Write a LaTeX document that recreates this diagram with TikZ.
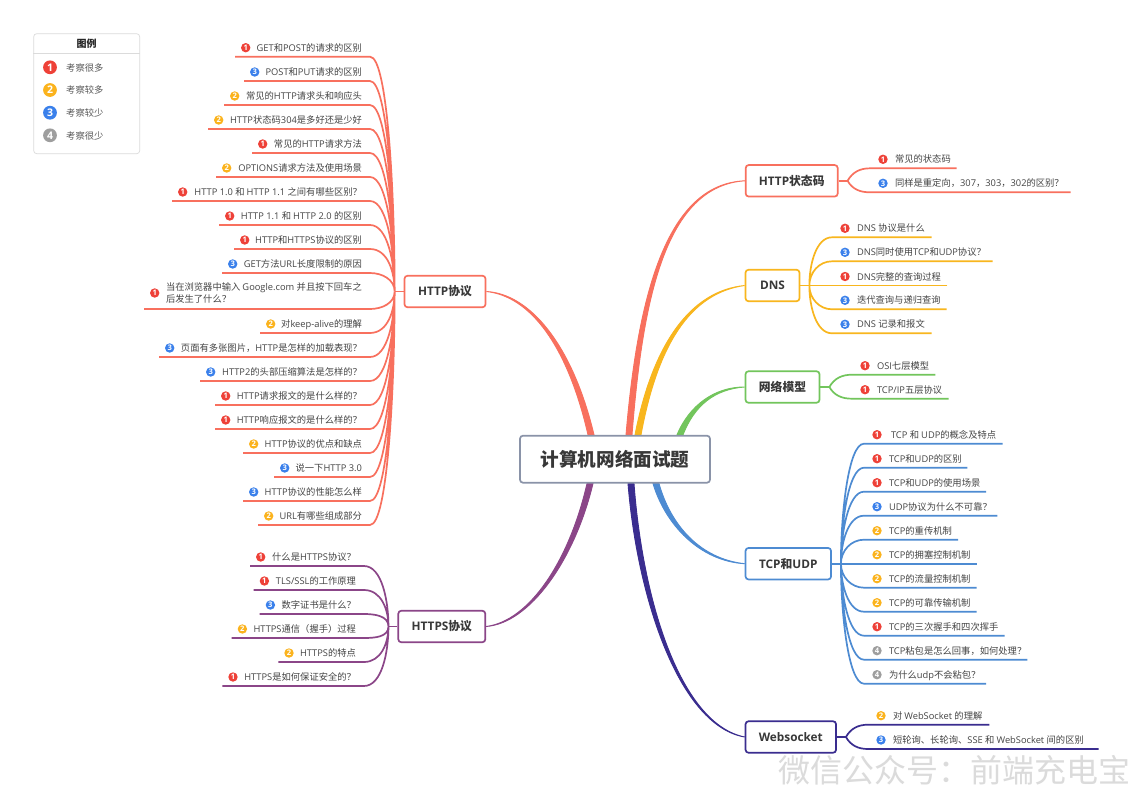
\documentclass[tikz,border=0pt]{standalone}
\usepackage{fontspec}
\usetikzlibrary{positioning, backgrounds}

\setmainfont{Open Sans}
\newfontfamily\latinfont{Open Sans}
\newfontfamily\cjkfont{Noto Sans CJK SC}

% Chinese characters switch to the CJK font by themselves
\XeTeXinterchartokenstate=1
\newXeTeXintercharclass\cjkclass
\newcount\cjkcode
\newcommand{\setcjkrange}[2]{\cjkcode=#1 \loop \XeTeXcharclass\cjkcode=\cjkclass \ifnum\cjkcode<#2 \advance\cjkcode by 1 \repeat}
\setcjkrange{"3000}{"303F}
\setcjkrange{"4E00}{"9FFF}
\setcjkrange{"FF00}{"FFEF}
\XeTeXinterchartoks 0 \cjkclass={\cjkfont}
\XeTeXinterchartoks \cjkclass 0={\latinfont}
\XeTeXinterchartoks 4095 \cjkclass={\cjkfont}
\XeTeXinterchartoks 4095 0={\latinfont}

\definecolor{inktext}{HTML}{444444}
\definecolor{rootline}{HTML}{8A93A8}
\definecolor{httpc}{HTML}{F8705E}
\definecolor{dnsc}{HTML}{F8B61E}
\definecolor{netc}{HTML}{72C55C}
\definecolor{tcpc}{HTML}{4D8BD2}
\definecolor{wsc}{HTML}{3A2D8F}
\definecolor{tlsc}{HTML}{8B4688}
\definecolor{lvred}{HTML}{EE4138}
\definecolor{lvorange}{HTML}{FBB31D}
\definecolor{lvblue}{HTML}{3A80EB}
\definecolor{lvgray}{HTML}{9E9E9E}

\tikzset{
    badge/.style={circle, inner sep=0pt, minimum size=9.4pt, text=white, font=\bfseries\fontsize{7.6}{7.6}\selectfont},
    lvone/.style={badge, fill=lvred},
    lvtwo/.style={badge, fill=lvorange},
    lvthree/.style={badge, fill=lvblue},
    lvfour/.style={badge, fill=lvgray},
    bigbadge/.style={minimum size=13.8pt, font=\bfseries\fontsize{10.5}{10.5}\selectfont},
    leaf/.style={outer sep=0pt, inner ysep=0pt, minimum height=18pt, text height=8pt, text depth=1pt,
        text=inktext, font=\fontsize{9.3}{12.5}\selectfont},
    lleaf/.style={leaf, anchor=south east, align=flush right, inner xsep=8pt, text width=#1-16pt},
    rleaf/.style={leaf, anchor=south west, align=flush left, inner xsep=3pt, text width=#1-6pt,
        execute at begin node={\hspace*{22pt}}},
    topic/.style={draw=#1, fill=white, rounded corners=3pt, line width=1.7pt, minimum height=31.5pt,
        inner xsep=0pt, text=black!78, font=\bfseries\fontsize{11.8}{14}\selectfont},
    trunk/.style={line width=1.7pt},
    lup/.style={out=0, in=90, out max distance=18pt},
    ldown/.style={out=0, in=-90, out max distance=18pt},
    rup/.style={out=180, in=90, out max distance=16pt},
    rdown/.style={out=180, in=-90, out max distance=16pt},
    legendtext/.style={anchor=west, inner sep=0pt, text=black!65, font=\fontsize{9.3}{12}\selectfont}
}

\newcommand{\limb}[6]{\filldraw[#1, line width=.9pt] ([xshift=-3pt]#2) .. controls ([xshift=-2.6pt]#3) and ([yshift=#6*1pt]#4) .. (#5) .. controls ([yshift=-1*#6*1pt]#4) and ([xshift=2.6pt]#3) .. ([xshift=3pt]#2) -- cycle;}

\begin{document}
\begin{tikzpicture}[x=1pt, y=-1pt]
    \useasboundingbox (0,0) rectangle (1132,787);

    % Root and topics
    \node[draw=rootline, fill=white, rounded corners=3pt, line width=1.7pt, minimum width=190pt, minimum height=47pt,
        inner sep=0pt, text=black!78, font=\bfseries\fontsize{18.6}{22}\selectfont] (root) at (615,459.2) {计算机网络面试题};
    \node[topic=httpc, minimum width=81pt] (http) at (445,291.5) {HTTP协议};
    \node[topic=httpc, minimum width=92pt] (status) at (791.7,180.8) {HTTP状态码};
    \node[topic=dnsc, minimum width=54pt] (dns) at (772.5,285.5) {DNS};
    \node[topic=netc, minimum width=74pt] (net) at (782.5,387) {网络模型};
    \node[topic=tcpc, minimum width=85.5pt] (tcp) at (788.3,563.7) {TCP和UDP};
    \node[topic=wsc, minimum width=90.5pt] (ws) at (790.8,737) {Websocket};
    \node[topic=tlsc, minimum width=87pt] (https) at (441.8,626.5) {HTTPS协议};

    \coordinate (rhttp) at ([xshift=-24pt]root.north);
    \coordinate (rstatus) at ([xshift=14pt]root.north);
    \coordinate (rdns) at ([xshift=23pt]root.north);
    \coordinate (rnet) at ([xshift=65pt]root.north);
    \coordinate (rtcp) at ([xshift=41pt]root.south);
    \coordinate (rws) at ([xshift=16pt]root.south);
    \coordinate (rhttps) at ([xshift=-25pt]root.south);

    \coordinate (hhub) at ([xshift=-9pt]http.west);
    \coordinate (shub) at ([xshift=9pt]status.east);
    \coordinate (dhub) at ([xshift=9pt]dns.east);
    \coordinate (nhub) at ([xshift=9pt]net.east);
    \coordinate (thub) at ([xshift=9pt]tcp.east);
    \coordinate (whub) at ([xshift=9pt]ws.east);
    \coordinate (lhub) at ([xshift=-9pt]https.west);

    % Legend
    \node[draw=black!14, fill=white, rounded corners=3pt, line width=.7pt, minimum width=106pt, minimum height=120pt] (legend) at (86.7,93.7) {};
    \node[inner sep=0pt, minimum height=20pt, text=black!85, font=\bfseries\fontsize{10}{12}\selectfont] (legendhead) at (86.7,43.3) {图例};
    \node[lvone, bigbadge] (k1) at (50,67.3) {1};
    \node[legendtext] (k1t) at (66,67.6) {考察很多};
    \node[lvtwo, bigbadge] (k2) at (50,90) {2};
    \node[legendtext] (k2t) at (66,90.3) {考察较多};
    \node[lvthree, bigbadge] (k3) at (50,112.7) {3};
    \node[legendtext] (k3t) at (66,113) {考察较少};
    \node[lvfour, bigbadge] (k4) at (50,135.3) {4};
    \node[legendtext] (k4t) at (66,135.6) {考察很少};
    \draw[black!14, line width=.7pt] (legendhead.south -| legend.west) -- (legendhead.south -| legend.east);

    % HTTP protocol leaves
    \node[lleaf=135pt] (h1) at (370,56.7) {GET和POST的请求的区别}; \node[lvone] (h1b) at ([xshift=10.7pt]h1.west) {1};
    \node[lleaf=126pt] (h2) at (370,81) {POST和PUT请求的区别}; \node[lvthree] (h2b) at ([xshift=10.7pt]h2.west) {3};
    \node[lleaf=146pt] (h3) at (370,105) {常见的HTTP请求头和响应头}; \node[lvtwo] (h3b) at ([xshift=10.7pt]h3.west) {2};
    \node[lleaf=162pt] (h4) at (370,129) {HTTP状态码304是多好还是少好}; \node[lvtwo] (h4b) at ([xshift=10.7pt]h4.west) {2};
    \node[lleaf=118pt] (h5) at (370,153) {常见的HTTP请求方法}; \node[lvone] (h5b) at ([xshift=10.7pt]h5.west) {1};
    \node[lleaf=154pt] (h6) at (370,177) {OPTIONS请求方法及使用场景}; \node[lvtwo] (h6b) at ([xshift=10.7pt]h6.west) {2};
    \node[lleaf=198pt] (h7) at (370,201) {HTTP 1.0 和 HTTP 1.1 之间有哪些区别？}; \node[lvone] (h7b) at ([xshift=10.7pt]h7.west) {1};
    \node[lleaf=151pt] (h8) at (370,225) {HTTP 1.1 和 HTTP 2.0 的区别}; \node[lvone] (h8b) at ([xshift=10.7pt]h8.west) {1};
    \node[lleaf=136pt] (h9) at (370,249) {HTTP和HTTPS协议的区别}; \node[lvone] (h9b) at ([xshift=10.7pt]h9.west) {1};
    \node[lleaf=148pt] (h10) at (370,273) {GET方法URL长度限制的原因}; \node[lvthree] (h10b) at ([xshift=10.7pt]h10.west) {3};
    \node[lleaf=226pt, minimum height=32pt, text height=, text depth=] (h11) at (370,309)
        {\parbox[c]{196pt}{\mbox{当在浏览器中输入 Google.com 并且按下回车之}\\后发生了什么？}};
    \node[lvone] (h11b) at ([xshift=10.7pt]h11.west) {1};
    \node[lleaf=110pt] (h12) at (370,333) {对keep-alive的理解}; \node[lvtwo] (h12b) at ([xshift=10.7pt]h12.west) {2};
    \node[lleaf=211pt] (h13) at (370,357) {页面有多张图片，HTTP是怎样的加载表现？}; \node[lvthree] (h13b) at ([xshift=10.7pt]h13.west) {3};
    \node[lleaf=170pt] (h14) at (370,381) {HTTP2的头部压缩算法是怎样的？}; \node[lvthree] (h14b) at ([xshift=10.7pt]h14.west) {3};
    \node[lleaf=155pt] (h15) at (370,405) {HTTP请求报文的是什么样的？}; \node[lvone] (h15b) at ([xshift=10.7pt]h15.west) {1};
    \node[lleaf=155pt] (h16) at (370,429) {HTTP响应报文的是什么样的？}; \node[lvone] (h16b) at ([xshift=10.7pt]h16.west) {1};
    \node[lleaf=127pt] (h17) at (370,453) {HTTP协议的优点和缺点}; \node[lvtwo] (h17b) at ([xshift=10.7pt]h17.west) {2};
    \node[lleaf=96pt] (h18) at (370,477) {说一下HTTP 3.0}; \node[lvthree] (h18b) at ([xshift=10.7pt]h18.west) {3};
    \node[lleaf=127pt] (h19) at (370,501) {HTTP协议的性能怎么样}; \node[lvthree] (h19b) at ([xshift=10.7pt]h19.west) {3};
    \node[lleaf=112pt] (h20) at (370,525) {URL有哪些组成部分}; \node[lvtwo] (h20b) at ([xshift=10.7pt]h20.west) {2};

    % HTTPS leaves
    \node[lleaf=114pt] (l1) at (364,566) {什么是HTTPS协议？}; \node[lvone] (l1b) at ([xshift=10.7pt]l1.west) {1};
    \node[lleaf=110.3pt] (l2) at (364,590) {TLS/SSL的工作原理}; \node[lvone] (l2b) at ([xshift=10.7pt]l2.west) {1};
    \node[lleaf=104.3pt] (l3) at (364,614) {数字证书是什么？}; \node[lvthree] (l3b) at ([xshift=10.7pt]l3.west) {3};
    \node[lleaf=132.3pt] (l4) at (364,638) {HTTPS通信（握手）过程}; \node[lvtwo] (l4b) at ([xshift=10.7pt]l4.west) {2};
    \node[lleaf=85.7pt] (l5) at (364,662) {HTTPS的特点}; \node[lvtwo] (l5b) at ([xshift=10.7pt]l5.west) {2};
    \node[lleaf=141.7pt] (l6) at (364,686) {HTTPS是如何保证安全的？}; \node[lvone] (l6b) at ([xshift=10.7pt]l6.west) {1};

    % Status code leaves
    \node[rleaf=86.7pt] (s1) at (870,168.3) {常见的状态码}; \node[lvone] (s1b) at ([xshift=13pt]s1.west) {1};
    \node[rleaf=200.7pt] (s2) at (870,192.3) {同样是重定向，307，303，302的区别？}; \node[lvthree] (s2b) at ([xshift=13pt]s2.west) {3};

    % DNS leaves
    \node[rleaf=99.7pt] (d1) at (832,237.3) {DNS 协议是什么}; \node[lvone] (d1b) at ([xshift=13pt]d1.west) {1};
    \node[rleaf=160.7pt] (d2) at (832,261.3) {DNS同时使用TCP和UDP协议？}; \node[lvthree] (d2b) at ([xshift=13pt]d2.west) {3};
    \node[rleaf=115.3pt] (d3) at (832,285.5) {DNS完整的查询过程}; \node[lvone] (d3b) at ([xshift=13pt]d3.west) {1};
    \node[rleaf=114.7pt] (d4) at (832,309.3) {迭代查询与递归查询}; \node[lvthree] (d4b) at ([xshift=13pt]d4.west) {3};
    \node[rleaf=99.7pt] (d5) at (832,333.3) {DNS 记录和报文}; \node[lvthree] (d5b) at ([xshift=13pt]d5.west) {3};

    % Network model leaves
    \node[rleaf=83.3pt] (n1) at (852,374.7) {OSI七层模型}; \node[lvone] (n1b) at ([xshift=13pt]n1.west) {1};
    \node[rleaf=96.7pt] (n2) at (852,398.7) {TCP/IP五层协议}; \node[lvone] (n2b) at ([xshift=13pt]n2.west) {1};

    % TCP and UDP leaves
    \node[rleaf=138.7pt] (t1) at (864,443.7) {\hspace{2pt}TCP 和 UDP的概念及特点}; \node[lvone] (t1b) at ([xshift=13pt]t1.west) {1};
    \node[rleaf=103.3pt] (t2) at (864,467.7) {TCP和UDP的区别}; \node[lvone] (t2b) at ([xshift=13pt]t2.west) {1};
    \node[rleaf=122pt] (t3) at (864,491.7) {TCP和UDP的使用场景}; \node[lvone] (t3b) at ([xshift=13pt]t3.west) {1};
    \node[rleaf=133.3pt] (t4) at (864,515.7) {UDP协议为什么不可靠？}; \node[lvthree] (t4b) at ([xshift=13pt]t4.west) {3};
    \node[rleaf=94pt] (t5) at (864,539.7) {TCP的重传机制}; \node[lvtwo] (t5b) at ([xshift=13pt]t5.west) {2};
    \node[rleaf=112.7pt] (t6) at (864,563.7) {TCP的拥塞控制机制}; \node[lvtwo] (t6b) at ([xshift=13pt]t6.west) {2};
    \node[rleaf=112.7pt] (t7) at (864,587.7) {TCP的流量控制机制}; \node[lvtwo] (t7b) at ([xshift=13pt]t7.west) {2};
    \node[rleaf=112.7pt] (t8) at (864,611.7) {TCP的可靠传输机制}; \node[lvtwo] (t8b) at ([xshift=13pt]t8.west) {2};
    \node[rleaf=140.7pt] (t9) at (864,635.7) {TCP的三次握手和四次挥手}; \node[lvone] (t9b) at ([xshift=13pt]t9.west) {1};
    \node[rleaf=163.3pt] (t10) at (864,659.7) {TCP粘包是怎么回事，如何处理？}; \node[lvfour] (t10b) at ([xshift=13pt]t10.west) {4};
    \node[rleaf=122pt] (t11) at (864,683.7) {为什么udp不会粘包？}; \node[lvfour] (t11b) at ([xshift=13pt]t11.west) {4};

    % Websocket leaves
    \node[rleaf=121.3pt] (w1) at (868,724.7) {对 WebSocket 的理解}; \node[lvtwo] (w1b) at ([xshift=13pt]w1.west) {2};
    \node[rleaf=230.7pt] (w2) at (868,749) {短轮询、长轮询、SSE 和 WebSocket 间的区别}; \node[lvthree] (w2b) at ([xshift=13pt]w2.west) {3};

    \node[inner sep=0pt, text=black!14, font=\fontsize{32}{34}\selectfont] (stamp) at (954,770) {微信公众号：前端充电宝};

    \begin{pgfonlayer}{background}
        \fill[white] (0,0) rectangle (1132,787);

        % Limbs from the root
        \limb{httpc}{rhttp}{570,345}{530,295}{http.east}{-1.2}
        \limb{httpc}{rstatus}{640,300}{665,185}{status.west}{1.2}
        \limb{dnsc}{rdns}{655,345}{690,292}{dns.west}{1.2}
        \limb{netc}{rnet}{692,405}{715,388}{net.west}{1.2}
        \limb{tcpc}{rtcp}{668,525}{700,560}{tcp.west}{-1.2}
        \limb{wsc}{rws}{640,600}{680,725}{ws.west}{-1.2}
        \limb{tlsc}{rhttps}{572,560}{530,622}{https.east}{1.2}

        % HTTP protocol
        \draw[httpc, trunk] (http.west) -- (hhub);
        \draw[httpc, trunk, lup]
            (h1.south west) -- (h1.south east) to (hhub)
            (h2.south west) -- (h2.south east) to (hhub)
            (h3.south west) -- (h3.south east) to (hhub)
            (h4.south west) -- (h4.south east) to (hhub)
            (h5.south west) -- (h5.south east) to (hhub)
            (h6.south west) -- (h6.south east) to (hhub)
            (h7.south west) -- (h7.south east) to (hhub)
            (h8.south west) -- (h8.south east) to (hhub)
            (h9.south west) -- (h9.south east) to (hhub)
            (h10.south west) -- (h10.south east) to (hhub);
        \draw[httpc, trunk, ldown]
            (h11.south west) -- (h11.south east) to (hhub)
            (h12.south west) -- (h12.south east) to (hhub)
            (h13.south west) -- (h13.south east) to (hhub)
            (h14.south west) -- (h14.south east) to (hhub)
            (h15.south west) -- (h15.south east) to (hhub)
            (h16.south west) -- (h16.south east) to (hhub)
            (h17.south west) -- (h17.south east) to (hhub)
            (h18.south west) -- (h18.south east) to (hhub)
            (h19.south west) -- (h19.south east) to (hhub)
            (h20.south west) -- (h20.south east) to (hhub);

        % HTTPS
        \draw[tlsc, trunk] (https.west) -- (lhub);
        \draw[tlsc, trunk, lup]
            (l1.south west) -- (l1.south east) to (lhub)
            (l2.south west) -- (l2.south east) to (lhub)
            (l3.south west) -- (l3.south east) to (lhub);
        \draw[tlsc, trunk, ldown]
            (l4.south west) -- (l4.south east) to (lhub)
            (l5.south west) -- (l5.south east) to (lhub)
            (l6.south west) -- (l6.south east) to (lhub);

        % Status code
        \draw[httpc, trunk] (status.east) -- (shub);
        \draw[httpc, trunk, rup, in=60] (s1.south east) -- (s1.south west) to (shub);
        \draw[httpc, trunk, rdown, in=-60] (s2.south east) -- (s2.south west) to (shub);

        % DNS
        \draw[dnsc, trunk] (dns.east) -- (dhub);
        \draw[dnsc, trunk, rup]
            (d1.south east) -- (d1.south west) to (dhub)
            (d2.south east) -- (d2.south west) to (dhub);
        \draw[dnsc, trunk] (d3.south east) -- (dhub);
        \draw[dnsc, trunk, rdown]
            (d4.south east) -- (d4.south west) to (dhub)
            (d5.south east) -- (d5.south west) to (dhub);

        % Network model
        \draw[netc, trunk] (net.east) -- (nhub);
        \draw[netc, trunk, rup, in=60] (n1.south east) -- (n1.south west) to (nhub);
        \draw[netc, trunk, rdown, in=-60] (n2.south east) -- (n2.south west) to (nhub);

        % TCP and UDP
        \draw[tcpc, trunk] (tcp.east) -- (thub);
        \draw[tcpc, trunk, rup]
            (t1.south east) -- (t1.south west) to (thub)
            (t2.south east) -- (t2.south west) to (thub)
            (t3.south east) -- (t3.south west) to (thub)
            (t4.south east) -- (t4.south west) to (thub)
            (t5.south east) -- (t5.south west) to (thub);
        \draw[tcpc, trunk] (t6.south east) -- (thub);
        \draw[tcpc, trunk, rdown]
            (t7.south east) -- (t7.south west) to (thub)
            (t8.south east) -- (t8.south west) to (thub)
            (t9.south east) -- (t9.south west) to (thub)
            (t10.south east) -- (t10.south west) to (thub)
            (t11.south east) -- (t11.south west) to (thub);

        % Websocket
        \draw[wsc, trunk] (ws.east) -- (whub);
        \draw[wsc, trunk, rup, in=60] (w1.south east) -- (w1.south west) to (whub);
        \draw[wsc, trunk, rdown, in=-60] (w2.south east) -- (w2.south west) to (whub);
    \end{pgfonlayer}
\end{tikzpicture}
\end{document}
